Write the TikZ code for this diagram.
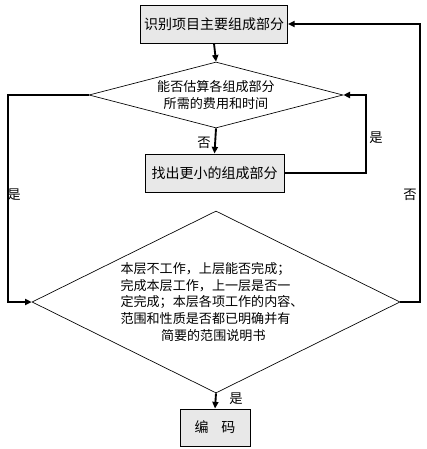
\documentclass[tikz,border=0pt]{standalone}
\usepackage{fontspec}
\setmainfont{Noto Sans CJK SC}
\usetikzlibrary{shapes.geometric,arrows.meta}
\begin{document}
\begin{tikzpicture}[x=0.75pt,y=-0.75pt,
  procbox/.style={draw=black,line width=0.7pt,fill=black!9,inner sep=0pt,font=\fontsize{10.5pt}{12pt}\selectfont},
  decision/.style={draw=black,line width=0.5pt,diamond,inner sep=0pt,font=\fontsize{9.8pt}{12pt}\selectfont,align=center},
  conn/.style={line width=1.4pt,-{Triangle[length=5pt,width=4.5pt]}},
  lbl/.style={font=\fontsize{10pt}{12pt}\selectfont,inner sep=0pt}]
\useasboundingbox (0,0) rectangle (427,449);
\node[procbox,minimum width=147*0.75pt,minimum height=38*0.75pt] (b1) at (214,24) {识别项目主要组成部分};
\node[decision,minimum width=254*0.75pt,minimum height=66*0.75pt] (d1) at (216,95) {};
\node[font=\fontsize{9.8pt}{12.5pt}\selectfont,align=center] (t1) at (216,95) {能否估算各组成部分\\所需的费用和时间};
\node[procbox,minimum width=139*0.75pt,minimum height=38*0.75pt] (b2) at (214.5,173) {找出更小的组成部分};
\node[decision,minimum width=368*0.75pt,minimum height=182*0.75pt] (d2) at (216,302) {};
\node[font=\fontsize{9.8pt}{12.6pt}\selectfont,align=left] (t2) at (212,302) {本层不工作，上层能否完成；\\完成本层工作，上一层是否一\\定完成；本层各项工作的内容、\\范围和性质是否都已明确并有\\\hspace*{3.1em}简要的范围说明书};
\node[procbox,minimum width=70*0.75pt,minimum height=37*0.75pt] (b3) at (215,427.5) {编\hspace{0.9em}码};
\coordinate (lt) at (8,95);
\coordinate (lb) at (8,302);
\coordinate (rt) at (366,173);
\coordinate (rb) at (366,95);
\coordinate (ot) at (420,302);
\coordinate (ob) at (420,24);
\draw[conn] (b1.south) -- (d1.north);
\draw[conn] (d1.south) -- (b2.north);
\draw[conn] (d2.south) -- (b3.north);
\draw[conn] (d1.west) -- (lt) -- (lb) -- (d2.west);
\draw[conn] (b2.east) -- (rt) -- (rb) -- (d1.east);
\draw[conn] (d2.east) -- (ot) -- (ob) -- (b1.east);
\node[lbl] (l1) at (204,143) {否};
\node[lbl] (l2) at (14,195) {是};
\node[lbl] (l3) at (376,138) {是};
\node[lbl] (l4) at (410,195) {否};
\node[lbl] (l5) at (236,399) {是};
\end{tikzpicture}
\end{document}
